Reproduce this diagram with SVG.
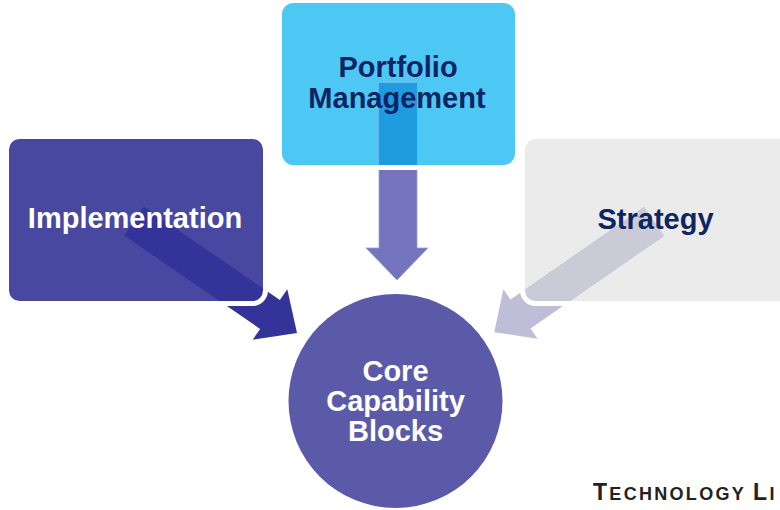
<svg xmlns="http://www.w3.org/2000/svg" width="780" height="510" viewBox="0 0 780 510">
  <style>
    .lbl { font-family: "Liberation Sans", Arial, sans-serif; font-weight: bold; font-size: 29px; text-anchor: middle; }
    .w { fill: #ffffff; }
    .n { fill: #0f2462; }
    .outline { fill: none; stroke: #ffffff; stroke-width: 5; }
  </style>
  <defs>
    <clipPath id="clipStrategy"><rect x="522.5" y="136.5" width="270" height="167" rx="13"/></clipPath>
  </defs>
  <rect width="780" height="510" fill="#ffffff"/>

  <g id="node-implementation"><rect x="6.5" y="136.5" width="259" height="167" rx="13" fill="#4848a0"/></g>
  <g id="node-portfolio"><rect x="279.5" y="0.5" width="238" height="167" rx="14" fill="#4dc8f4"/></g>
  <g id="node-strategy"><rect x="522.5" y="136.5" width="270" height="167" rx="13" fill="#ebebeb"/></g>
  <g id="node-core"><circle cx="395.5" cy="401" r="107" fill="#5b5aa9"/></g>

  <g id="connectors">
    <polygon points="143.9,206.6 279.9,300.1 287.3,289.3 297,333 252.7,339.7 260.1,328.9 124.1,235.4" fill="#34339a"/>
    <polygon points="379,83 417,83 417,248 428,248 397,280 366,248 379,248" fill="#7474bc" stroke="#9c9cd4" stroke-width="0.8"/>
    <rect x="379" y="83" width="38" height="84" fill="#1f9be0"/>
    <polygon points="644,207.1 510.5,299.6 503.4,289.3 494.2,332.2 537.6,338.7 530.5,328.4 664,235.9" fill="#bebed8"/>
    <polygon points="644,207.1 510.5,299.6 503.4,289.3 494.2,332.2 537.6,338.7 530.5,328.4 664,235.9" fill="#cbcbd8" clip-path="url(#clipStrategy)"/>
  </g>

  <g id="node-outlines">
    <rect class="outline" x="6.5" y="136.5" width="259" height="167" rx="13"/>
    <rect class="outline" x="279.5" y="0.5" width="238" height="167" rx="14"/>
    <rect class="outline" x="522.5" y="136.5" width="270" height="167" rx="13"/>
  </g>

  <g id="labels">
    <text class="lbl w" x="135" y="228">Implementation</text>
    <text class="lbl n" x="398" y="77">Portfolio</text>
    <text class="lbl n" x="397" y="108">Management</text>
    <text class="lbl n" x="655.5" y="229">Strategy</text>
    <text class="lbl w" x="395.5" y="381">Core</text>
    <text class="lbl w" x="395.5" y="411">Capability</text>
    <text class="lbl w" x="395.5" y="441">Blocks</text>
  </g>

  <text x="593" y="500" font-family="'Liberation Sans', Arial, sans-serif" font-weight="bold" font-size="18" letter-spacing="2.3" fill="#222222"><tspan font-size="23">T</tspan>ECHNOLOGY <tspan font-size="23">L</tspan>I</text>
</svg>
